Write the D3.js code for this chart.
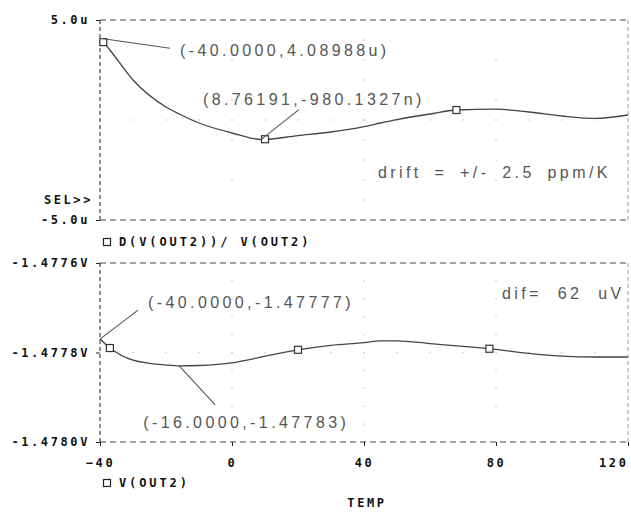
<!DOCTYPE html>
<html>
<head>
<meta charset="utf-8">
<script src="https://cdn.jsdelivr.net/npm/d3@7"></script>
<style>
  body { margin: 0; background: #fff; }
  .lbl { font-family: 'DejaVu Sans Mono', monospace; font-weight: bold; font-size: 12px; letter-spacing: 2.6px; fill: #111; }
  .note { font-family: 'Liberation Sans', Arial, sans-serif; font-size: 16px; letter-spacing: 3.4px; fill: #555; }
</style>
</head>
<body>
<svg id="chart" width="631" height="512"></svg>
<script>
// data
var temps = [-40, -37, -30, -20, -16, -10, 0, 9, 20, 30, 40, 45, 50, 60, 68, 80, 90, 100, 110, 120]
  , driftU = [4.09, 3.5, 2.0, 0.65, 0.3, -0.15, -0.65, -0.98, -0.78, -0.6, -0.33, -0.15, 0.02, 0.3, 0.5, 0.54, 0.4, 0.2, 0.08, 0.25]
  , vout = [-1.47777, -1.47779, -1.477817, -1.477828, -1.47783, -1.477829, -1.477823, -1.47781, -1.477794, -1.477784,
            -1.477778, -1.477774, -1.477774, -1.47778, -1.477785, -1.477793, -1.477802, -1.477808, -1.47781, -1.47781]
  , driftMarks = [-39, 10, 68]
  , voutMarks = [-37, 20, 78]
  , xTicks = [-40, 0, 40, 80, 120]
  , driftTicks = [5, -5]
  , driftTickLabels = ['5.0u', '-5.0u']
  , voutTicks = [-1.4776, -1.4778, -1.4780]
  , voutTickLabels = ['-1.4776V', '-1.4778V', '-1.4780V']
  , driftCursorT = [-40, 8.76191]
  , driftCursorV = [4.08988, -0.9801327]
  , driftCursorText = ['(-40.0000,4.08988u)', '(8.76191,-980.1327n)']
  , voutCursorT = [-40, -16]
  , voutCursorV = [-1.47777, -1.47783]
  , voutCursorText = ['(-40.0000,-1.47777)', '(-16.0000,-1.47783)'];

var svg = d3.select('#chart')
  , left = 100
  , right = 628;

var x = d3.scaleLinear().domain([-40, 120]).range([left, right]);
var yTop = d3.scaleLinear().domain([-5, 5]).range([220, 20]);
var yBot = d3.scaleLinear().domain([-1.4780, -1.4776]).range([442, 263]);

var interp = function (ts, vs, t) {
  var i = d3.bisectLeft(ts, t);
  if (i <= 0) return vs[0];
  if (i >= ts.length) return vs[vs.length - 1];
  return vs[i - 1] + (vs[i] - vs[i - 1]) * (t - ts[i - 1]) / (ts[i] - ts[i - 1]);
};

var drawPanel = function (y, values, marks) {
  var y0 = y.range()[1], y1 = y.range()[0]
    , g = svg.append('g');

  // faint dotted grid
  var mid = (y0 + y1) / 2
    , dots = [];
  [0, 40, 80].forEach(function (t) {
    for (var k = 1; k < 10; k++) dots.push([x(t), y0 + (y1 - y0) * k / 10]);
  });
  for (var t = -30; t < 120; t += 10) dots.push([x(t), mid]);
  g.selectAll('rect.dot').data(dots).enter().append('rect')
    .attr('class', 'dot')
    .attr('x', function (d) { return d[0] - 0.75; })
    .attr('y', function (d) { return d[1] - 0.75; })
    .attr('width', 1.5).attr('height', 1.5)
    .attr('fill', '#d0d0d0');

  // dashed frame
  g.append('line').attr('x1', left).attr('x2', right).attr('y1', y0).attr('y2', y0)
    .attr('stroke', '#444').attr('stroke-dasharray', '6,4');
  g.append('line').attr('x1', left).attr('x2', right).attr('y1', y1).attr('y2', y1)
    .attr('stroke', '#444').attr('stroke-dasharray', '6,4');
  g.append('line').attr('x1', right).attr('x2', right).attr('y1', y0).attr('y2', y1)
    .attr('stroke', '#999').attr('stroke-dasharray', '4,3');
  g.append('line').attr('x1', left).attr('x2', left).attr('y1', y0).attr('y2', y1)
    .attr('stroke', '#222').attr('stroke-dasharray', '4,3');

  var line = d3.line()
    .x(function (d, i) { return x(temps[i]); })
    .y(function (d) { return y(d); })
    .curve(d3.curveMonotoneX);

  g.append('path').datum(values)
    .attr('d', line)
    .attr('fill', 'none')
    .attr('stroke', '#444')
    .attr('stroke-width', 1.3);

  g.selectAll('rect.mark').data(marks).enter().append('rect')
    .attr('class', 'mark')
    .attr('x', function (d) { return x(d) - 3.5; })
    .attr('y', function (d) { return y(interp(temps, values, d)) - 3.5; })
    .attr('width', 7).attr('height', 7)
    .attr('fill', '#fff').attr('stroke', '#333').attr('stroke-width', 1.2);

  return g;
};

drawPanel(yTop, driftU, driftMarks);
drawPanel(yBot, vout, voutMarks);

// axes
var styleAxis = function (g) {
  g.select('.domain').remove();
  g.selectAll('.tick line').attr('stroke', '#222');
  g.selectAll('.tick text').attr('class', 'lbl');
};

svg.append('g').attr('transform', 'translate(' + left + ',0)')
  .call(d3.axisLeft(yTop).tickValues(driftTicks).tickSize(4).tickPadding(6)
    .tickFormat(function (d, i) { return driftTickLabels[i]; }))
  .call(styleAxis);

svg.append('g').attr('transform', 'translate(' + left + ',0)')
  .call(d3.axisLeft(yBot).tickValues(voutTicks).tickSize(4).tickPadding(6)
    .tickFormat(function (d, i) { return voutTickLabels[i]; }))
  .call(styleAxis);

var xAxis = svg.append('g').attr('transform', 'translate(0,' + yBot.range()[0] + ')')
  .call(d3.axisBottom(x).tickValues(xTicks).tickSize(4).tickPadding(12)
    .tickFormat(d3.format('d')))
  .call(styleAxis);

// last label sits against the right edge
xAxis.selectAll('.tick text')
  .filter(function (d) { return d === 120; })
  .attr('text-anchor', 'end')
  .attr('dx', 0);

svg.append('text').attr('class', 'lbl').attr('x', 93).attr('y', 200)
  .attr('dy', '0.35em').attr('text-anchor', 'end').text('SEL>>');

svg.append('text').attr('class', 'lbl').attr('x', 367).attr('y', 503)
  .attr('dy', '0.35em').attr('text-anchor', 'middle').text('TEMP');

// legends
var legend = function (yPos, label) {
  svg.append('rect').attr('x', 103.5).attr('y', yPos - 3.5).attr('width', 7).attr('height', 7)
    .attr('fill', '#fff').attr('stroke', '#222').attr('stroke-width', 1.2);
  svg.append('text').attr('class', 'lbl').style('letter-spacing', '2.9px')
    .attr('x', 119).attr('y', yPos).attr('dy', '0.35em').text(label);
};
legend(242, 'D(V(OUT2))/ V(OUT2)');
legend(483, 'V(OUT2)');

// cursor notes: leader end and text start, relative to the anchor point
var driftOffsets = [[70, 10, 80, 12], [38, -30, -58, -40]]
  , voutOffsets = [[38, -29, 48, -37], [36, 39, -36, 56]];

var notes = function (y, ts, vs, texts, offs) {
  ts.forEach(function (t, i) {
    var ax = x(t), ay = y(vs[i]), o = offs[i];
    svg.append('line').attr('x1', ax).attr('y1', ay).attr('x2', ax + o[0]).attr('y2', ay + o[1])
      .attr('stroke', '#555').attr('stroke-width', 1.1);
    svg.append('text').attr('class', 'note').attr('x', ax + o[2]).attr('y', ay + o[3])
      .attr('dy', '0.35em').text(texts[i]);
  });
};
notes(yTop, driftCursorT, driftCursorV, driftCursorText, driftOffsets);
notes(yBot, voutCursorT, voutCursorV, voutCursorText, voutOffsets);

svg.append('text').attr('class', 'note').attr('x', 378).attr('y', 172).attr('dy', '0.35em')
  .style('word-spacing', '5px')
  .text('drift = +/- 2.5 ppm/K');
svg.append('text').attr('class', 'note').attr('x', 502).attr('y', 293).attr('dy', '0.35em')
  .style('word-spacing', '8px')
  .text('dif= 62 uV');
</script>
</body>
</html>
